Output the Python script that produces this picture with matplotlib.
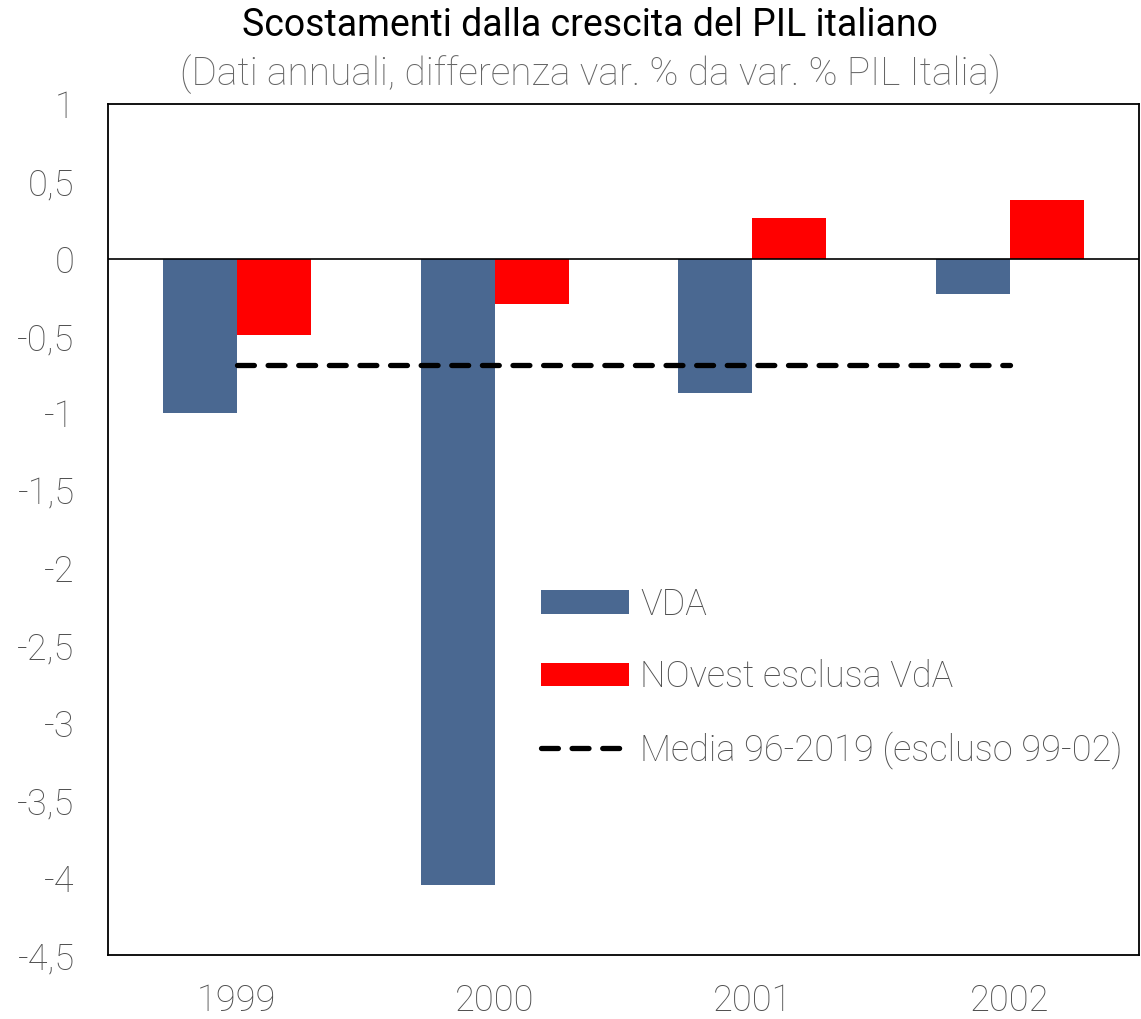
import matplotlib
matplotlib.use("Agg")
import matplotlib.pyplot as plt
import numpy as np

plt.rcParams['font.family'] = ['Roboto', 'DejaVu Sans']

years = ["1999", "2000", "2001", "2002"]
vda = [-1.0, -4.05, -0.87, -0.23]
novest = [-0.49, -0.29, 0.26, 0.38]
media = [-0.69, -0.69, -0.69, -0.69]
yticks = [1, 0.5, 0, -0.5, -1, -1.5, -2, -2.5, -3, -3.5, -4, -4.5]
ytick_labels = ["1", "0,5", "0", "-0,5", "-1", "-1,5", "-2", "-2,5", "-3", "-3,5", "-4", "-4,5"]

W, H = 1141, 1019
fig = plt.figure(figsize=(W/100, H/100), dpi=100)
ax = fig.add_axes([108/W, 1-955/H, 1031/W, (955-104)/H])

x = np.arange(len(years))
bw = 0.287
h1 = ax.bar(x - bw/2, vda, width=bw, color="#4A6891", label="VDA", zorder=2)
h2 = ax.bar(x + bw/2, novest, width=bw, color="#FF0000", label="NOvest esclusa VdA", zorder=2)
h3, = ax.plot(x, media, color="black", lw=3.8, linestyle=(0, (3.2, 2.6)),
              dash_capstyle="round", label="Media 96-2019 (escluso 99-02)", zorder=3)
ax.axhline(0, color="black", lw=1.2, zorder=2.5)

ax.set_xlim(-0.5, 3.5)
ax.set_ylim(-4.5, 1)
ax.set_yticks(yticks)
ax.set_yticklabels(ytick_labels)
ax.set_xticks(x)
ax.set_xticklabels(years)
ax.tick_params(axis="both", length=0, labelsize=26, labelcolor="#505050")
ax.tick_params(axis="y", pad=24)
ax.tick_params(axis="x", pad=20)
for lbl in ax.get_xticklabels() + ax.get_yticklabels():
    lbl.set_fontweight("light")
for s in ax.spines.values():
    s.set_linewidth(1.3)
    s.set_color("black")

fig.text(590/W, 1-25/H, "Scostamenti dalla crescita del PIL italiano",
         ha="center", va="center", fontsize=27, color="black")
fig.text(590/W, 1-74/H, "(Dati annuali, differenza var. % da var. % PIL Italia)",
         ha="center", va="center", fontsize=28, color="#666666", fontweight="light")

leg = fig.legend(handles=[h1, h2, h3], loc="center left", bbox_to_anchor=(541/W, 1-678/H),
                 frameon=False, borderpad=0, borderaxespad=0, handlelength=2.45,
                 handleheight=0.62, handletextpad=0.3, labelspacing=1.0, fontsize=26)
for t in leg.get_texts():
    t.set_color("#505050")
    t.set_fontweight("light")

fig.savefig("out.png", dpi=100)
